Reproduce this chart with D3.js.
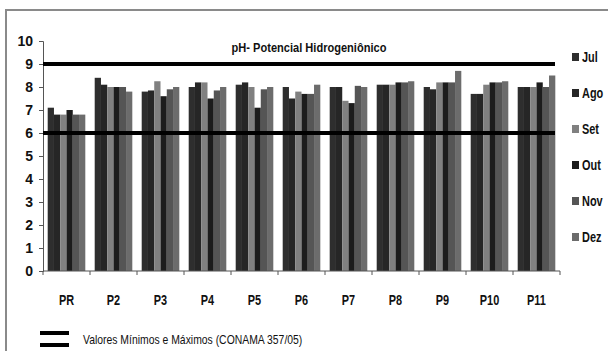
<!DOCTYPE html>
<html>
<head>
<meta charset="utf-8">
<script src="https://cdn.jsdelivr.net/npm/d3@7"></script>
<style>
  html, body { margin: 0; padding: 0; background: #fff; }
  svg { display: block; }
</style>
</head>
<body>
<svg id="chart" width="608" height="351"></svg>
<script>
// Sampling points and months
const points = ["PR", "P2", "P3", "P4", "P5", "P6", "P7", "P8", "P9", "P10", "P11"];
const months = ["Jul", "Ago", "Set", "Out", "Nov", "Dez"];

// pH per month, one value per sampling point
const jul = [7.1, 8.4, 7.8, 8.0, 8.1, 8.0, 8.0, 8.1, 8.0, 7.7, 8.0];
const ago = [6.8, 8.1, 7.85, 8.2, 8.2, 7.5, 8.0, 8.1, 7.9, 7.7, 8.0];
const set = [6.8, 8.0, 8.25, 8.2, 8.0, 7.8, 7.4, 8.1, 8.2, 8.1, 8.0];
const out = [7.0, 8.0, 7.6, 7.5, 7.1, 7.7, 7.3, 8.2, 8.2, 8.2, 8.2];
const nov = [6.8, 8.0, 7.9, 7.85, 7.9, 7.7, 8.05, 8.2, 8.2, 8.2, 8.0];
const dez = [6.8, 7.8, 8.0, 8.0, 8.0, 8.1, 8.0, 8.25, 8.7, 8.25, 8.5];
const series = [jul, ago, set, out, nov, dez];

// CONAMA 357/05 limits
const limits = [6, 9];
const yTicks = [0, 1, 2, 3, 4, 5, 6, 7, 8, 9, 10];

const colors = ["#2e2e2e", "#262626", "#808080", "#1c1c1c", "#555555", "#6c6c6c"];
const sans = "'Liberation Sans', Arial, sans-serif";

const svg = d3.select("#chart");

// condensed text: horizontal squeeze of a regular sans face
function narrowText(parent, x, y, str, opts) {
  const o = Object.assign({ size: 13, weight: "bold", anchor: "start", squeeze: 0.8 }, opts || {});
  return parent.append("text")
    .attr("transform", `translate(${x},${y}) scale(${o.squeeze},1)`)
    .attr("text-anchor", o.anchor)
    .attr("font-family", sans)
    .attr("font-weight", o.weight)
    .attr("font-size", o.size)
    .attr("fill", "#111")
    .text(str);
}

// outer frame
svg.append("path")
  .attr("d", "M6,351 V10 H608")
  .attr("fill", "none")
  .attr("stroke", "#8a8a8a")
  .attr("stroke-width", 2);

const plotLeft = 43, plotRight = 560, plotTop = 41, plotBottom = 271;

const x0 = d3.scaleBand().domain(points).range([plotLeft, plotRight]).paddingInner(0.2).paddingOuter(0.1);
const x1 = d3.scaleBand().domain(months).range([0, x0.bandwidth()]);
const y = d3.scaleLinear().domain([0, 10]).range([plotBottom, plotTop]);

// bars
const g = svg.append("g");
points.forEach((p, i) => {
  g.selectAll(null)
    .data(months.map((m, j) => ({ m, v: series[j][i], c: colors[j] })))
    .join("rect")
    .attr("x", d => x0(p) + x1(d.m))
    .attr("y", d => y(d.v))
    .attr("width", x1.bandwidth())
    .attr("height", d => y(0) - y(d.v))
    .attr("fill", d => d.c);
});

// y axis
const yAxis = svg.append("g")
  .attr("transform", `translate(${plotLeft},0)`)
  .call(d3.axisLeft(y).tickValues(yTicks).tickSize(4).tickPadding(6).tickFormat(d3.format("d")));
yAxis.select(".domain").attr("stroke", "#555");
yAxis.selectAll(".tick line").attr("stroke", "#555");
yAxis.selectAll("text")
  .attr("font-family", sans)
  .attr("font-weight", "bold")
  .attr("font-size", 14)
  .attr("fill", "#111");

// x axis with ticks at category boundaries
const xAxis = svg.append("g").attr("transform", `translate(0,${plotBottom})`);
xAxis.append("line").attr("x1", plotLeft).attr("x2", plotRight).attr("stroke", "#555");
xAxis.selectAll(null)
  .data(d3.range(points.length + 1))
  .join("line")
  .attr("x1", i => plotLeft + i * (plotRight - plotLeft) / points.length)
  .attr("x2", i => plotLeft + i * (plotRight - plotLeft) / points.length)
  .attr("y1", 0).attr("y2", 4)
  .attr("stroke", "#555");
points.forEach(p => {
  narrowText(xAxis, x0(p) + x0.bandwidth() / 2, 34, p, { size: 14, anchor: "middle", squeeze: 0.78 });
});

// limit lines
svg.selectAll(null)
  .data(limits)
  .join("line")
  .attr("x1", plotLeft)
  .attr("x2", 555)
  .attr("y1", d => y(d))
  .attr("y2", d => y(d))
  .attr("stroke", "#000")
  .attr("stroke-width", 4);

// title
narrowText(svg, 309, 52, "pH- Potencial Hidrogeniônico", { size: 13.5, anchor: "middle", squeeze: 0.82 });

// month legend
const leg = svg.append("g");
months.forEach((m, j) => {
  const cy = 57 + j * 36;
  leg.append("rect")
    .attr("x", 572).attr("y", cy - 4).attr("width", 7).attr("height", 8)
    .attr("fill", colors[j]);
  narrowText(leg, 582, cy + 5, m, { size: 14, squeeze: 0.78 });
});

// limits legend
[333, 345].forEach(ly => {
  svg.append("line")
    .attr("x1", 40).attr("x2", 69)
    .attr("y1", ly).attr("y2", ly)
    .attr("stroke", "#000").attr("stroke-width", 4);
});
narrowText(svg, 83, 344, "Valores Mínimos e Máximos (CONAMA 357/05)", { size: 13, weight: "normal", squeeze: 0.8 });
</script>
</body>
</html>
